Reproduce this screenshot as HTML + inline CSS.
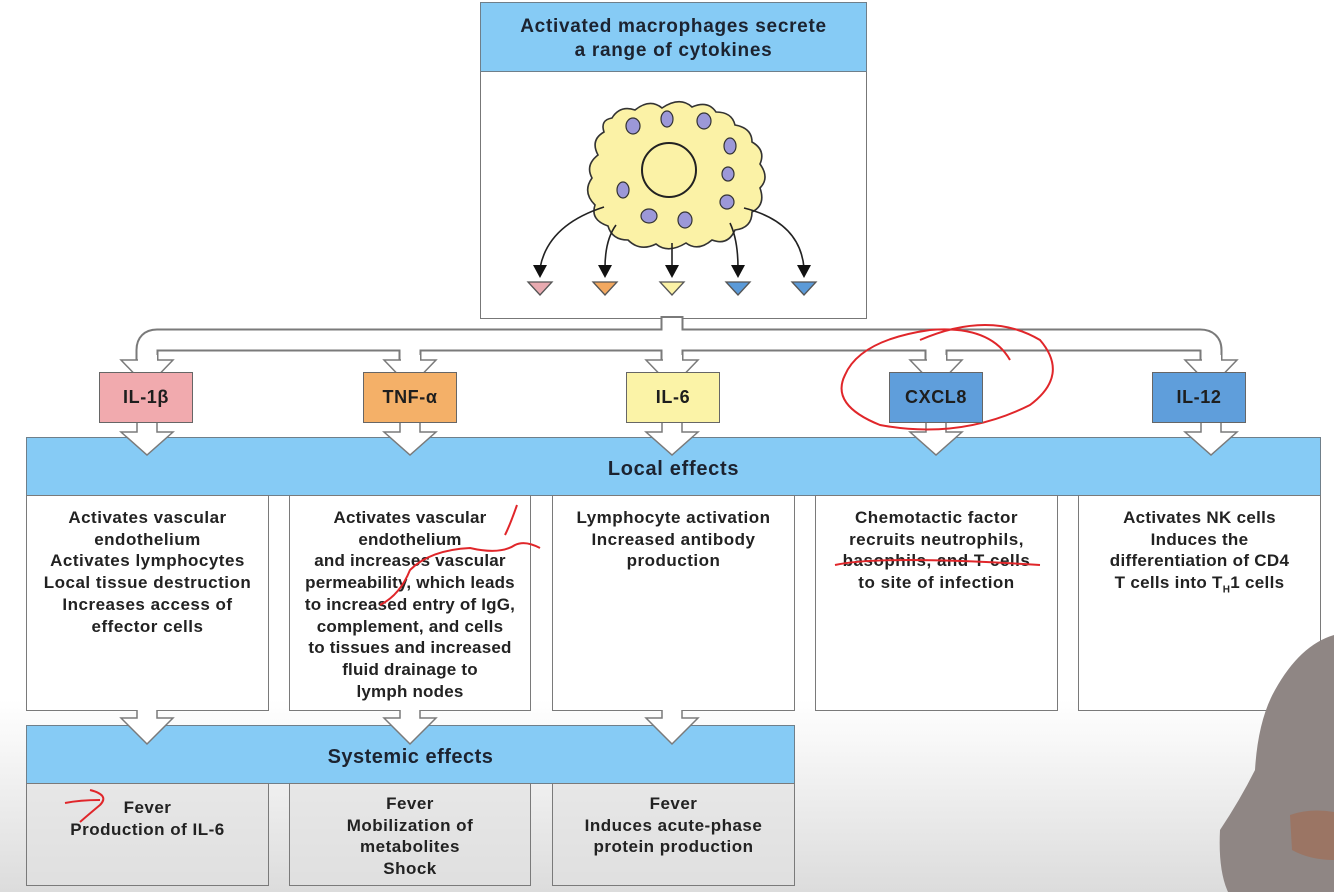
<!DOCTYPE html>
<html><head><meta charset="utf-8">
<style>
*{margin:0;padding:0;box-sizing:border-box}
body{width:1334px;height:892px;overflow:hidden;position:relative;font-family:"Liberation Sans",sans-serif;font-weight:bold;color:#222;
background:linear-gradient(to bottom,#fff 0,#fff 700px,#f4f4f4 760px,#dcdcdc 892px)}
.a{position:absolute}
.hdr{background:#86cbf5;border:1.5px solid #6f7f8a;text-align:center;color:#1c2330}
.box{position:absolute;border:1.5px solid #7a7a7a;text-align:center;font-size:17px;letter-spacing:0.5px;line-height:21.7px;padding-top:11px;white-space:nowrap}
.ck{position:absolute;top:372px;width:94px;height:51px;border:1.5px solid #666;text-align:center;line-height:49px;font-size:18px;letter-spacing:0.6px;color:#1e1e1e}
.bot{background:rgba(225,225,225,.6)}
svg{position:absolute;left:0;top:0}
</style></head><body>

<div class="a" style="left:480px;top:2px;width:387px;height:317px;border:1.5px solid #777;background:#fff"></div>
<div class="a hdr" style="left:480px;top:2px;width:387px;height:70px;font-size:19px;letter-spacing:0.7px;line-height:24px;padding-top:12px">Activated macrophages secrete<br>a range of cytokines</div>

<div class="a hdr" style="left:26px;top:437px;width:1295px;height:59px;font-size:20px;letter-spacing:0.7px;line-height:62px">Local effects</div>

<div class="box" style="left:26px;top:495px;width:243px;height:216px;background:#fff">Activates vascular<br>endothelium<br>Activates lymphocytes<br>Local tissue destruction<br>Increases access of<br>effector cells</div>
<div class="box" style="left:289px;top:495px;width:242px;height:216px;background:#fff;letter-spacing:0.2px">Activates vascular<br>endothelium<br>and increases vascular<br>permeability, which leads<br>to increased entry of IgG,<br>complement, and cells<br>to tissues and increased<br>fluid drainage to<br>lymph nodes</div>
<div class="box" style="left:552px;top:495px;width:243px;height:216px;background:#fff">Lymphocyte activation<br>Increased antibody<br>production</div>
<div class="box" style="left:815px;top:495px;width:243px;height:216px;background:#fff">Chemotactic factor<br>recruits neutrophils,<br>basophils, and T cells<br>to site of infection</div>
<div class="box" style="left:1078px;top:495px;width:243px;height:216px;background:#fff;letter-spacing:0.3px">Activates NK cells<br>Induces the<br>differentiation of CD4<br>T cells into T<sub style="font-size:10px">H</sub>1 cells</div>

<div class="a hdr" style="left:26px;top:725px;width:769px;height:59px;font-size:20px;letter-spacing:0.5px;line-height:62px">Systemic effects</div>
<div class="box bot" style="left:26px;top:783px;width:243px;height:103px;padding-top:13px">Fever<br>Production of IL-6</div>
<div class="box bot" style="left:289px;top:783px;width:242px;height:103px;padding-top:9px">Fever<br>Mobilization of<br>metabolites<br>Shock</div>
<div class="box bot" style="left:552px;top:783px;width:243px;height:103px;padding-top:9px">Fever<br>Induces acute-phase<br>protein production</div>

<svg width="1334" height="892" viewBox="0 0 1334 892">
 <g fill="none" stroke-linejoin="round">
  <g stroke="#7a7a7a" stroke-width="23">
   <path d="M147 372 V350 Q147 340 157 340 H1200 Q1211 340 1211 350 V372"/>
   <path d="M672 316 V372"/><path d="M410 340 V372"/><path d="M936 340 V372"/>
  </g>
  <g stroke="#fff" stroke-width="19">
   <path d="M147 374 V350 Q147 340 157 340 H1200 Q1211 340 1211 350 V374"/>
   <path d="M672 318 V374"/><path d="M410 340 V374"/><path d="M936 340 V374"/>
  </g>
 </g>
 <g stroke="#7a7a7a" stroke-width="1.5" fill="#fff">
  <polygon points="121,360 173,360 147,387"/>
  <polygon points="384,360 436,360 410,387"/>
  <polygon points="646,360 698,360 672,387"/>
  <polygon points="910,360 962,360 936,387"/>
  <polygon points="1185,360 1237,360 1211,387"/>
 </g>
 <g fill="#fff"><rect x="138" y="355" width="19" height="7"/><rect x="401" y="355" width="19" height="7"/><rect x="663" y="355" width="19" height="7"/><rect x="927" y="355" width="19" height="7"/><rect x="1202" y="355" width="19" height="7"/></g>
 <g stroke="#7a7a7a" stroke-width="1.5" fill="#fff">
  <path d="M137 423 V432 H121 L147 455 L173 432 H157 V423"/>
  <path d="M400 423 V432 H384 L410 455 L436 432 H420 V423"/>
  <path d="M662 423 V432 H646 L672 455 L698 432 H682 V423"/>
  <path d="M926 423 V432 H910 L936 455 L962 432 H946 V423"/>
  <path d="M1201 423 V432 H1185 L1211 455 L1237 432 H1221 V423"/>
  <path d="M137 710 V718 H121 L147 744 L173 718 H157 V710"/>
  <path d="M400 710 V718 H384 L410 744 L436 718 H420 V710"/>
  <path d="M662 710 V718 H646 L672 744 L698 718 H682 V710"/>
 </g>
 <path d="M612 118 Q620 105 635 110 Q650 98 662 108 Q680 96 692 107 Q708 100 716 112 Q732 112 735 125 Q752 128 752 142 Q766 150 760 164 Q770 178 760 188 Q766 205 752 212 Q752 228 735 230 Q728 246 712 240 Q698 252 686 243 Q668 254 656 244 Q640 252 628 240 Q612 240 608 226 Q590 220 595 205 Q582 192 592 178 Q585 165 598 155 Q590 140 604 132 Q600 120 612 118 Z" fill="#fbf2a6" stroke="#333" stroke-width="1.6"/>
 <circle cx="669" cy="170" r="27" fill="#fbf2a6" stroke="#222" stroke-width="2"/>
 <g fill="#9c98d8" stroke="#333" stroke-width="1.2">
  <ellipse cx="633" cy="126" rx="7" ry="8"/><ellipse cx="667" cy="119" rx="6" ry="8"/><ellipse cx="704" cy="121" rx="7" ry="8"/>
  <ellipse cx="730" cy="146" rx="6" ry="8"/><ellipse cx="728" cy="174" rx="6" ry="7"/><ellipse cx="727" cy="202" rx="7" ry="7"/>
  <ellipse cx="623" cy="190" rx="6" ry="8"/><ellipse cx="649" cy="216" rx="8" ry="7"/><ellipse cx="685" cy="220" rx="7" ry="8"/>
 </g>
 <g fill="none" stroke="#222" stroke-width="1.6">
  <path d="M604 207 Q548 225 540 268"/><path d="M616 225 Q605 240 605 268"/><path d="M672 243 V268"/>
  <path d="M730 223 Q738 240 738 268"/><path d="M744 208 Q800 222 804 268"/>
 </g>
 <g fill="#111">
  <polygon points="533,265 547,265 540,278"/><polygon points="598,265 612,265 605,278"/><polygon points="665,265 679,265 672,278"/><polygon points="731,265 745,265 738,278"/><polygon points="797,265 811,265 804,278"/>
 </g>
 <g stroke="#555" stroke-width="1.3">
  <polygon points="528,282 552,282 540,295" fill="#e8aab0"/>
  <polygon points="593,282 617,282 605,295" fill="#f2a860"/>
  <polygon points="660,282 684,282 672,295" fill="#fbf2a6"/>
  <polygon points="726,282 750,282 738,295" fill="#5b9ad8"/>
  <polygon points="792,282 816,282 804,295" fill="#5b9ad8"/>
 </g>
 <path d="M1334 635 Q1300 645 1275 690 Q1258 720 1255 770 Q1240 800 1220 830 Q1218 870 1228 892 H1334 Z" fill="#8f8684"/>
 <path d="M1290 815 Q1310 808 1334 812 V860 Q1310 860 1292 850 Z" fill="#9b7564"/>
 <g fill="none" stroke="#e0262a" stroke-width="2">
  <path d="M920 340 Q990 310 1040 340 Q1070 375 1030 405 Q960 440 880 425 Q830 405 845 375 Q860 340 930 330 Q990 325 1010 360"/>
  <path d="M835 565 Q880 555 1040 565"/>
  <path d="M517 505 Q510 525 505 535 M380 605 Q400 595 410 570 Q430 550 470 548 Q500 555 515 545 Q525 540 540 548"/>
  <path d="M65 803 Q80 800 100 800 M90 790 Q110 795 100 805 Q88 815 80 822"/>
 </g>
</svg>

<div class="ck" style="left:99px;background:#f1aaae">IL-1β</div>
<div class="ck" style="left:363px;background:#f4b068">TNF-α</div>
<div class="ck" style="left:626px;background:#fbf3a7">IL-6</div>
<div class="ck" style="left:889px;background:#5f9edb">CXCL8</div>
<div class="ck" style="left:1152px;background:#5f9edb">IL-12</div>
</body></html>
